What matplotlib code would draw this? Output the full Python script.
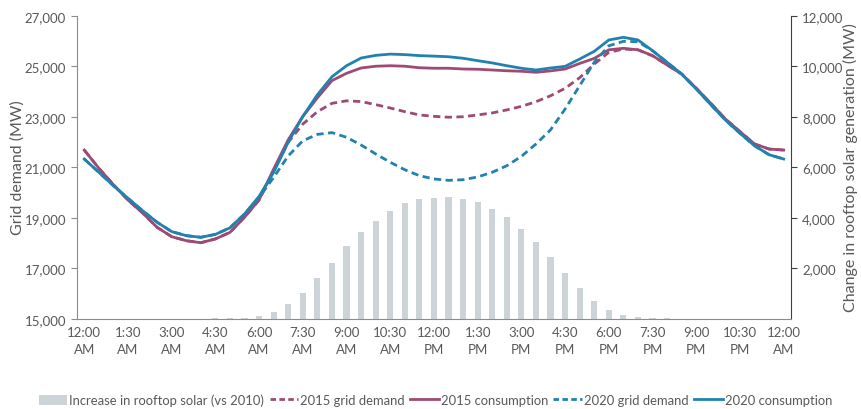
import matplotlib
matplotlib.use("Agg")
import matplotlib.pyplot as plt
from matplotlib.patches import Patch
from matplotlib.lines import Line2D

plt.rcParams['font.family'] = ['Lato', 'DejaVu Sans']

# Half-hourly time slots, 12:00 AM .. 12:00 AM (49 points)
slots = list(range(49))
tick_pos = [0, 3, 6, 9, 12, 15, 18, 21, 24, 27, 30, 33, 36, 39, 42, 45, 48]
tick_labels = ["12:00\nAM", "1:30\nAM", "3:00\nAM", "4:30\nAM", "6:00\nAM", "7:30\nAM",
               "9:00\nAM", "10:30\nAM", "12:00\nPM", "1:30\nPM", "3:00\nPM", "4:30\nPM",
               "6:00\nPM", "7:30\nPM", "9:00\nPM", "10:30\nPM", "12:00\nAM"]

solar_increase = [0, 0, 0, 0, 0, 0, 0, 0, 0, 10, 20, 40, 105, 250, 570, 1020, 1600,
                  2220, 2870, 3450, 3875, 4260, 4565, 4735, 4800, 4830, 4750, 4615,
                  4350, 4010, 3560, 3055, 2450, 1810, 1220, 700, 345, 160, 65, 25, 20,
                  0, 0, 0, 0, 0, 0, 0, 0]

consumption_2015 = [21680, 20960, 20310, 19700, 19190, 18620, 18250, 18090, 18010, 18160,
                    18420, 19020, 19710, 20930, 22090, 23010, 23750, 24430, 24720, 24930,
                    25000, 25020, 25000, 24940, 24920, 24920, 24890, 24880, 24850, 24820,
                    24800, 24760, 24815, 24890, 25110, 25310, 25650, 25710, 25650, 25420,
                    25050, 24690, 24125, 23530, 22910, 22410, 21920, 21720, 21680]

grid_2015 = [21680, 20960, 20310, 19700, 19190, 18620, 18250, 18090, 18010, 18160,
             18420, 19020, 19700, 20880, 21990, 22710, 23200, 23530, 23630, 23600,
             23480, 23345, 23200, 23070, 23015, 22980, 23000, 23070, 23150, 23270,
             23410, 23595, 23830, 24125, 24545, 25085, 25550, 25680, 25650, 25410,
             25050, 24690, 24125, 23530, 22910, 22410, 21920, 21720, 21680]

consumption_2020 = [21325, 20800, 20270, 19770, 19280, 18820, 18450, 18290, 18225, 18340,
                    18600, 19150, 19850, 20800, 21990, 23016, 23870, 24585, 25020, 25325,
                    25430, 25480, 25460, 25420, 25400, 25375, 25315, 25220, 25130, 25020,
                    24920, 24850, 24930, 24995, 25285, 25590, 26040, 26145, 26040, 25615,
                    25155, 24690, 24100, 23475, 22870, 22345, 21850, 21495, 21325]

grid_2020 = [21325, 20800, 20270, 19770, 19280, 18820, 18450, 18290, 18225, 18340,
             18600, 19150, 19800, 20600, 21450, 22050, 22300, 22370, 22185, 21880,
             21525, 21195, 20900, 20665, 20535, 20480, 20505, 20615, 20800, 21060,
             21430, 21920, 22480, 23305, 24230, 25155, 25810, 25985, 25970, 25615,
             25155, 24690, 24100, 23475, 22870, 22345, 21850, 21495, 21325]

PURPLE = "#9e4a74"
BLUE = "#2282ae"
GREY_BAR = "#cdd4d8"
TXT = "#595959"

fig = plt.figure(figsize=(8.62, 4.10), dpi=100)
ax = fig.add_axes([0.0893, 0.2202, 0.8283, 0.7390])
ax2 = ax.twinx()
ax.set_zorder(ax2.get_zorder() + 1)
ax.patch.set_visible(False)

ax2.bar(slots, solar_increase, width=0.42, color=GREY_BAR, zorder=1)
ax2.set_ylim(0, 12000)
ax2.set_yticks([2000, 4000, 6000, 8000, 10000, 12000])
ax2.set_yticklabels([f"{v:,}" for v in [2000, 4000, 6000, 8000, 10000, 12000]])

lw = 2.0
ax.plot(slots, grid_2015, color=PURPLE, lw=lw, dashes=(2.6, 1.6))
ax.plot(slots, consumption_2015, color=PURPLE, lw=lw)
ax.plot(slots, grid_2020, color=BLUE, lw=lw, dashes=(2.6, 1.6))
ax.plot(slots, consumption_2020, color=BLUE, lw=lw)

ax.set_xlim(-0.5, 48.5)
ax.set_ylim(15000, 27000)
yt = [15000, 17000, 19000, 21000, 23000, 25000, 27000]
ax.set_yticks(yt)
ax.set_yticklabels([f"{v:,}" for v in yt])
ax.set_xticks(tick_pos)
ax.set_xticklabels(tick_labels, linespacing=1.55)

for a in (ax, ax2):
    a.spines['top'].set_visible(False)
ax.spines['right'].set_visible(False)
ax2.spines['left'].set_visible(False)
ax2.spines['bottom'].set_visible(False)
ax.spines['left'].set_color("#8c8c8c")
ax.spines['bottom'].set_color("#8c8c8c")
ax2.spines['right'].set_color("#404040")

ax.tick_params(axis='x', length=0, pad=5, labelsize=9.5, colors=TXT)
ax.tick_params(axis='y', length=4, color="#8c8c8c", labelsize=9.5, labelcolor=TXT, pad=4)
ax2.tick_params(axis='y', length=4, color="#404040", labelsize=9.5, labelcolor=TXT, pad=4)

fig.text(18 / 862, 1 - 168 / 410, "Grid demand (MW)", rotation=90, ha='center', va='center',
         fontsize=11.5, color=TXT)
fig.text(850 / 862, 1 - 168 / 410, "Change in rooftop solar generation (MW)", rotation=90,
         ha='center', va='center', fontsize=11.5, color=TXT)

handles = [
    Patch(facecolor=GREY_BAR, edgecolor='none'),
    Line2D([], [], color=PURPLE, lw=lw, dashes=(2.0, 1.2)),
    Line2D([], [], color=PURPLE, lw=lw),
    Line2D([], [], color=BLUE, lw=lw, dashes=(2.0, 1.2)),
    Line2D([], [], color=BLUE, lw=lw),
]
labels = ["Increase in rooftop solar (vs 2010)", "2015 grid demand", "2015 consumption",
          "2020 grid demand", "2020 consumption"]
leg = fig.legend(handles, labels, loc='center', bbox_to_anchor=(0.505, 0.022), ncol=5,
                 frameon=False, fontsize=9.4, handlelength=2.2, handleheight=0.8,
                 handletextpad=0.15, columnspacing=0.4, borderaxespad=0)
for t in leg.get_texts():
    t.set_color(TXT)

fig.savefig("out.png", dpi=100)
